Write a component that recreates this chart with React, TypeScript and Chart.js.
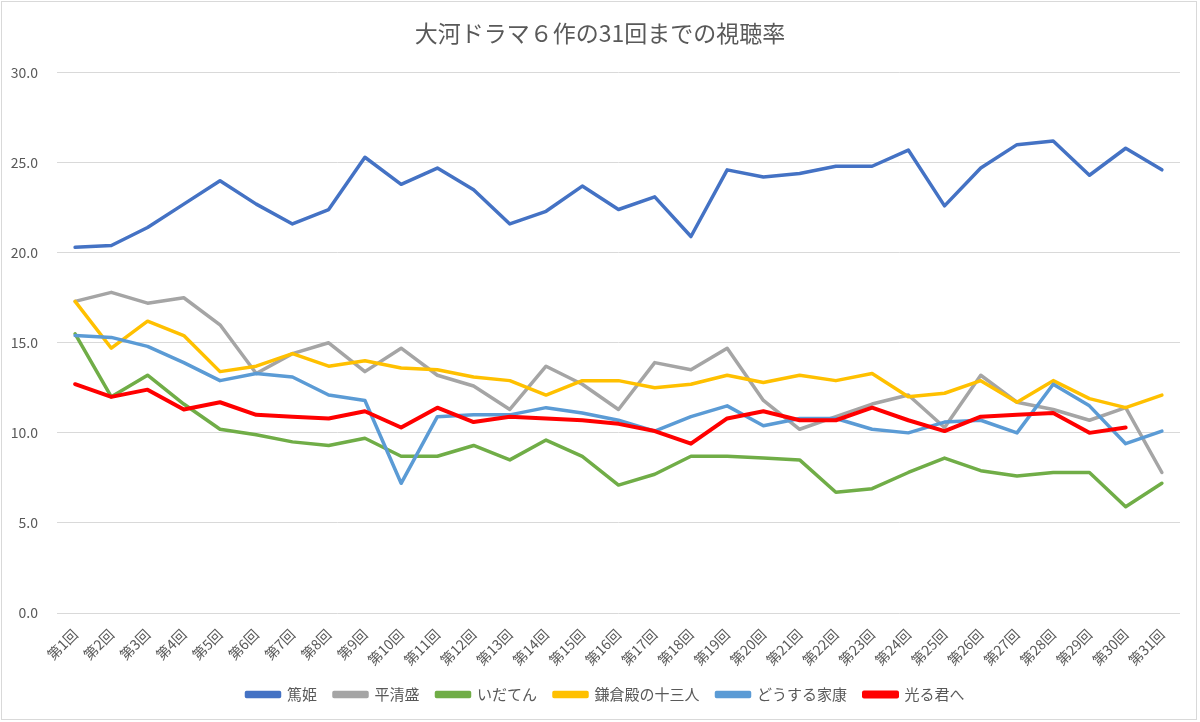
import React, { useEffect, useRef } from 'react';
import { Chart, registerables } from 'chart.js';

Chart.register(...registerables);

// 各回のラベル
const episodes = Array.from({ length: 31 }, (_, i) => `第${i + 1}回`);

// 視聴率
const atsuhime = [20.3, 20.4, 21.4, 22.7, 24.0, 22.7, 21.6, 22.4, 25.3, 23.8, 24.7, 23.5, 21.6, 22.3, 23.7, 22.4, 23.1, 20.9, 24.6, 24.2, 24.4, 24.8, 24.8, 25.7, 22.6, 24.7, 26.0, 26.2, 24.3, 25.8, 24.6];
const tairanoKiyomori = [17.3, 17.8, 17.2, 17.5, 16.0, 13.3, 14.4, 15.0, 13.4, 14.7, 13.2, 12.6, 11.3, 13.7, 12.7, 11.3, 13.9, 13.5, 14.7, 11.8, 10.2, 10.9, 11.6, 12.1, 10.3, 13.2, 11.7, 11.3, 10.7, 11.4, 7.8];
const idaten = [15.5, 12.0, 13.2, 11.6, 10.2, 9.9, 9.5, 9.3, 9.7, 8.7, 8.7, 9.3, 8.5, 9.6, 8.7, 7.1, 7.7, 8.7, 8.7, 8.6, 8.5, 6.7, 6.9, 7.8, 8.6, 7.9, 7.6, 7.8, 7.8, 5.9, 7.2];
const kamakuradono = [17.3, 14.7, 16.2, 15.4, 13.4, 13.7, 14.4, 13.7, 14.0, 13.6, 13.5, 13.1, 12.9, 12.1, 12.9, 12.9, 12.5, 12.7, 13.2, 12.8, 13.2, 12.9, 13.3, 12.0, 12.2, 12.9, 11.7, 12.9, 11.9, 11.4, 12.1];
const dousuruIeyasu = [15.4, 15.3, 14.8, 13.9, 12.9, 13.3, 13.1, 12.1, 11.8, 7.2, 10.9, 11.0, 11.0, 11.4, 11.1, 10.7, 10.1, 10.9, 11.5, 10.4, 10.8, 10.8, 10.2, 10.0, 10.6, 10.7, 10.0, 12.7, 11.5, 9.4, 10.1];
const hikaruKimie = [12.7, 12.0, 12.4, 11.3, 11.7, 11.0, 10.9, 10.8, 11.2, 10.3, 11.4, 10.6, 10.9, 10.8, 10.7, 10.5, 10.1, 9.4, 10.8, 11.2, 10.7, 10.7, 11.4, 10.7, 10.1, 10.9, 11.0, 11.1, 10.0, 10.3, null];

const seriesNames = ['篤姫', '平清盛', 'いだてん', '鎌倉殿の十三人', 'どうする家康', '光る君へ'];
const seriesValues = [atsuhime, tairanoKiyomori, idaten, kamakuradono, dousuruIeyasu, hikaruKimie];
const seriesColors = ['#4472C4', '#A5A5A5', '#70AD47', '#FFC000', '#5B9BD5', '#FF0000'];

const FONT = "'Noto Sans CJK JP', 'Noto Sans', sans-serif";
const TEXT = '#595959';
const GRID = '#D9D9D9';

// タイトルと凡例を少し右へ（Excelの配置に合わせる）
const shiftBlocks = {
  id: 'shiftBlocks',
  afterLayout(chart: any) {
    if (chart.titleBlock) chart.titleBlock.left += 18;
    if (chart.legend) chart.legend.left += 29;
  },
};

const App = () => {
  const canvasRef = useRef<HTMLCanvasElement>(null);

  useEffect(() => {
    const ctx: any = canvasRef.current && canvasRef.current.getContext('2d');
    const config: any = {
      type: 'line',
      data: {
        labels: episodes,
        datasets: seriesNames.map((name, i) => ({
          label: name,
          data: seriesValues[i],
          borderColor: seriesColors[i],
          backgroundColor: seriesColors[i],
          borderWidth: i === 5 ? 4 : 3.5,
          pointRadius: 0,
          tension: 0,
          borderJoinStyle: 'round',
          borderCapStyle: 'round',
          order: seriesNames.length - 1 - i, // 後の系列を上に描く
        })),
      },
      options: {
        responsive: false,
        animation: false,
        layout: { padding: { left: 0, right: 16, top: 0, bottom: 7 } },
        plugins: {
          title: {
            display: true,
            text: '大河ドラマ６作の31回までの視聴率',
            color: TEXT,
            font: { family: FONT, size: 23, weight: 'normal' },
            padding: { top: 17, bottom: 26 },
          },
          legend: {
            position: 'bottom',
            labels: {
              color: TEXT,
              font: { family: FONT, size: 15 },
              boxWidth: 33,
              boxHeight: 4,
              padding: 17,
              sort: (a: any, b: any) => a.datasetIndex - b.datasetIndex,
            },
          },
          tooltip: { enabled: false },
        },
        scales: {
          x: {
            offset: true,
            grid: { display: false, drawTicks: false },
            border: { display: false },
            ticks: {
              color: TEXT,
              font: { family: FONT, size: 14 },
              maxRotation: 45,
              minRotation: 45,
              autoSkip: false,
              padding: 13,
            },
            afterFit: (scale: any) => { scale.height = 57; },
          },
          y: {
            min: 0,
            max: 30,
            grid: { color: GRID, lineWidth: 1, drawTicks: false },
            border: { display: false },
            ticks: {
              stepSize: 5,
              color: TEXT,
              font: { family: FONT, size: 14 },
              padding: 19,
              callback: (v: any) => Number(v).toFixed(1),
            },
            afterFit: (scale: any) => { scale.width = 55; },
          },
        },
      },
      plugins: [shiftBlocks],
    };
    const chart = new Chart(ctx, config);
    return () => {
      chart.destroy();
    };
  }, []);

  return (
    <div style={{ position: 'absolute', left: 1, top: 1, width: 1196, height: 719, border: `1px solid ${GRID}`, boxSizing: 'border-box', background: '#fff' }}>
      <canvas ref={canvasRef} width={1194} height={717} style={{ display: 'block', width: 1194, height: 717 }}></canvas>
    </div>
  );
};

export default App;
